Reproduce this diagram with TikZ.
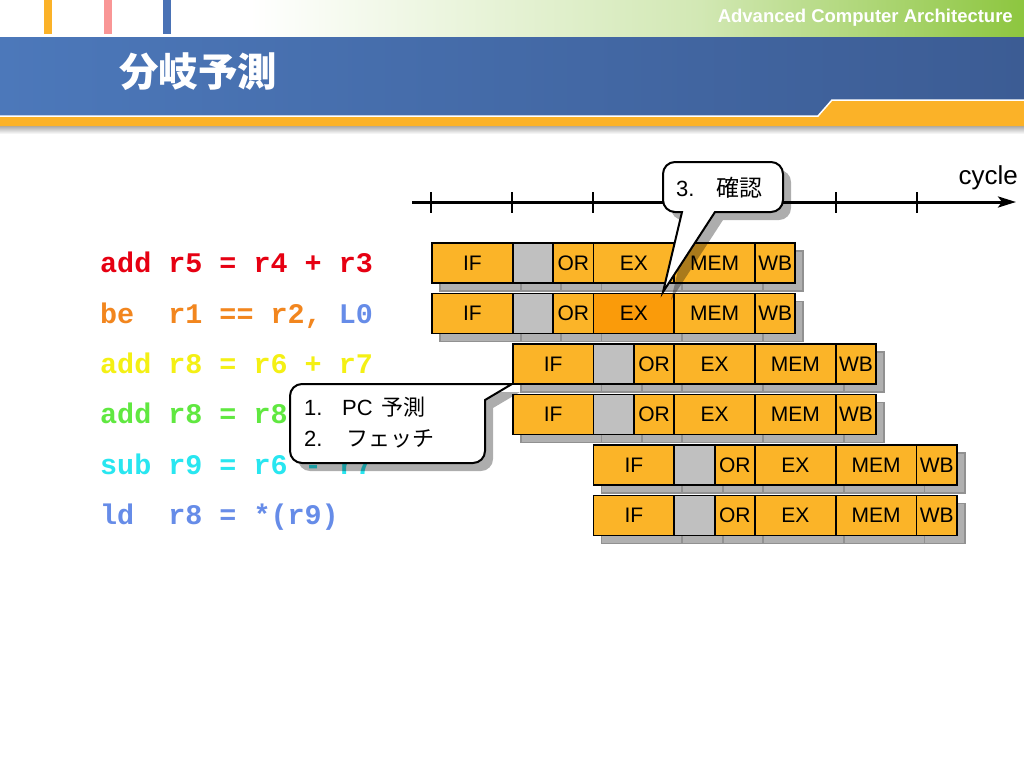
\documentclass[tikz,border=0pt]{standalone}
\usepackage{fontspec}
\setmainfont{Liberation Sans}
\newfontfamily\jp{Noto Sans CJK JP}
\newfontfamily\codefont{Liberation Mono}
\usetikzlibrary{arrows.meta}
\definecolor{pipeorange}{RGB}{251,180,40}
\definecolor{exdark}{RGB}{250,155,10}
\definecolor{bubblegrey}{RGB}{192,192,192}
\definecolor{shadowfill}{RGB}{176,176,176}
\definecolor{shadowline}{RGB}{145,145,145}
\definecolor{hgreen}{RGB}{141,198,63}
\definecolor{hgreenmid}{RGB}{210,232,180}
\definecolor{blueL}{RGB}{76,120,186}
\definecolor{blueR}{RGB}{60,92,148}
\definecolor{horange}{RGB}{251,178,40}
\definecolor{barpink}{RGB}{249,150,150}
\definecolor{barblue}{RGB}{74,114,181}
\definecolor{cRed}{RGB}{230,0,18}
\definecolor{cOrange}{RGB}{242,134,30}
\definecolor{cYellow}{RGB}{244,240,20}
\definecolor{cGreen}{RGB}{96,232,64}
\definecolor{cCyan}{RGB}{40,230,240}
\definecolor{cBlue}{RGB}{102,140,232}
% #1 prefix, #2 x, #3 y, #4 style, #5 bubble style, #6 EX style, #7 show labels (1/0)
\newcommand\pipeRow[7]{%
  \node[#4, minimum width=80.75pt] (#1if) at (#2,#3) {\ifnum#7=1 IF\fi};
  \node[#4, #5, minimum width=40.375pt] (#1bb) at (#1if.east) {};
  \node[#4, minimum width=40.375pt] (#1or) at (#1bb.east) {\ifnum#7=1 OR\fi};
  \node[#4, #6, minimum width=80.75pt] (#1ex) at (#1or.east) {\ifnum#7=1 EX\fi};
  \node[#4, minimum width=80.75pt] (#1mem) at (#1ex.east) {\ifnum#7=1 MEM\fi};
  \node[#4, minimum width=40.375pt] (#1wb) at (#1mem.east) {\ifnum#7=1 WB\fi};
}
\newcommand\calloutOne{(512,384) -- (485,400) [rounded corners=12pt] -- (485,463) -- (290,463) -- (290,384) [sharp corners] -- (471,384) -- cycle}
\newcommand\calloutTwo{(663,292) -- (715,212) [rounded corners=12pt] -- (783,212) -- (783,162) -- (663,162) -- (663,212) [sharp corners] -- (682,212) -- cycle}
\begin{document}
\begin{tikzpicture}[x=1pt,y=-1pt,
  stage/.style={draw=black, line width=1.8pt, fill=pipeorange, minimum height=40pt,
    inner sep=0pt, outer sep=0pt, anchor=west, font=\fontsize{21}{22}\selectfont},
  shstage/.style={draw=shadowline, line width=1.8pt, fill=shadowfill,
    minimum height=40pt, inner sep=0pt, outer sep=0pt, anchor=west},
  bubble/.style={fill=bubblegrey},
  exhi/.style={fill=exdark},
  code/.style={anchor=base west, inner sep=0pt, font=\fontsize{28.4}{30}\selectfont\codefont\bfseries},
  caltext/.style={anchor=base west, inner sep=0pt, font=\fontsize{22}{26}\selectfont},
  calpath/.style={fill=white, draw=black, line width=2pt},
  calshadow/.style={fill=black, opacity=0.32},
]
\useasboundingbox (0,0) rectangle (1024,768);
\fill[white] (0,0) rectangle (1024,768);
% header
\shade[left color=white, right color=hgreenmid] (250,0) rectangle (700,38);
\shade[left color=hgreenmid, right color=hgreen] (700,0) rectangle (1024,38);
\fill[horange] (44,0) rectangle (52,34);
\fill[barpink] (104,0) rectangle (112,34);
\fill[barblue] (163,0) rectangle (171,34);
\shade[left color=blueL, right color=blueR] (0,38) rectangle (1024,116);
\shade[top color=gray!75, bottom color=white] (0,125) rectangle (1024,134);
\fill[horange] (0,116) -- (818,116) -- (832,100) -- (1024,100) -- (1024,126) -- (0,126) -- cycle;
\draw[white, line width=1.5pt] (0,116) -- (818,116) -- (832,100) -- (1024,100);
\node[anchor=east, text=white, inner sep=0pt, font=\fontsize{18.5}{20}\selectfont\bfseries] (hdr) at (1013,18) {Advanced Computer Architecture};
\node[anchor=west, text=white, inner sep=0pt, font=\fontsize{39.5}{42}\selectfont\jp\bfseries] (title) at (119,72) {分岐予測};
% code
\node[code, text=cRed] (i1) at (100,272) {add r5 = r4 + r3};
\node[code, text=cOrange] (i2) at (100,323) {be~~r1 == r2, \textcolor{cBlue}{L0}};
\node[code, text=cYellow] (i3) at (100,373) {add r8 = r6 + r7};
\node[code, text=cGreen] (i4) at (100,423) {add r8 = r8};
\node[code, text=cCyan] (i5) at (100,474) {sub r9 = r6 - r7};
\node[code, text=cBlue] (i6) at (100,524) {ld~~r8 = *(r9)};
% pipeline shadows
\pipeRow{sa}{440}{271}{shstage}{}{}{0}
\pipeRow{sb}{440}{321.5}{shstage}{}{}{0}
\pipeRow{sc}{520.75}{372}{shstage}{}{}{0}
\pipeRow{sd}{520.75}{422.5}{shstage}{}{}{0}
\pipeRow{se}{601.5}{473}{shstage}{}{}{0}
\pipeRow{sf}{601.5}{523.5}{shstage}{}{}{0}
% pipeline rows
\pipeRow{ra}{432}{263}{stage}{bubble}{}{1}
\pipeRow{rb}{432}{313.5}{stage}{bubble}{exhi}{1}
\pipeRow{rc}{512.75}{364}{stage}{bubble}{}{1}
\pipeRow{rd}{512.75}{414.5}{stage}{bubble}{}{1}
\pipeRow{re}{593.5}{465}{stage}{bubble}{}{1}
\pipeRow{rf}{593.5}{515.5}{stage}{bubble}{}{1}
% timeline
\coordinate (tl) at (412,202);
\coordinate (tr) at (1016,202);
\draw[line width=3pt, -{Stealth[length=18pt, width=11pt, inset=4pt]}] (tl) -- (tr);
\foreach \k in {0,...,6} \draw[line width=2pt] (431+81*\k,192) -- (431+81*\k,213);
\node[anchor=base east, inner sep=0pt, font=\fontsize{26}{28}\selectfont] (cyc) at (1018,184) {cycle};
% callout 2
\fill[calshadow, shift={(8,8)}] \calloutTwo;
\filldraw[calpath] \calloutTwo;
\node[caltext] (c2a) at (676,196) {3.};
\node[caltext, font=\fontsize{23}{26}\selectfont\jp] (c2b) at (716,196) {確認};
% callout 1
\fill[calshadow, shift={(8,8)}] \calloutOne;
\filldraw[calpath] \calloutOne;
\node[caltext] (c1a) at (304,415) {1.};
\node[caltext] (c1b) at (342,415) {PC\hspace{9pt}{\jp 予測}};
\node[caltext] (c1c) at (304,446) {2.};
\node[caltext, font=\fontsize{22}{26}\selectfont\jp] (c1d) at (346,446) {フェッチ};
\end{tikzpicture}
\end{document}
